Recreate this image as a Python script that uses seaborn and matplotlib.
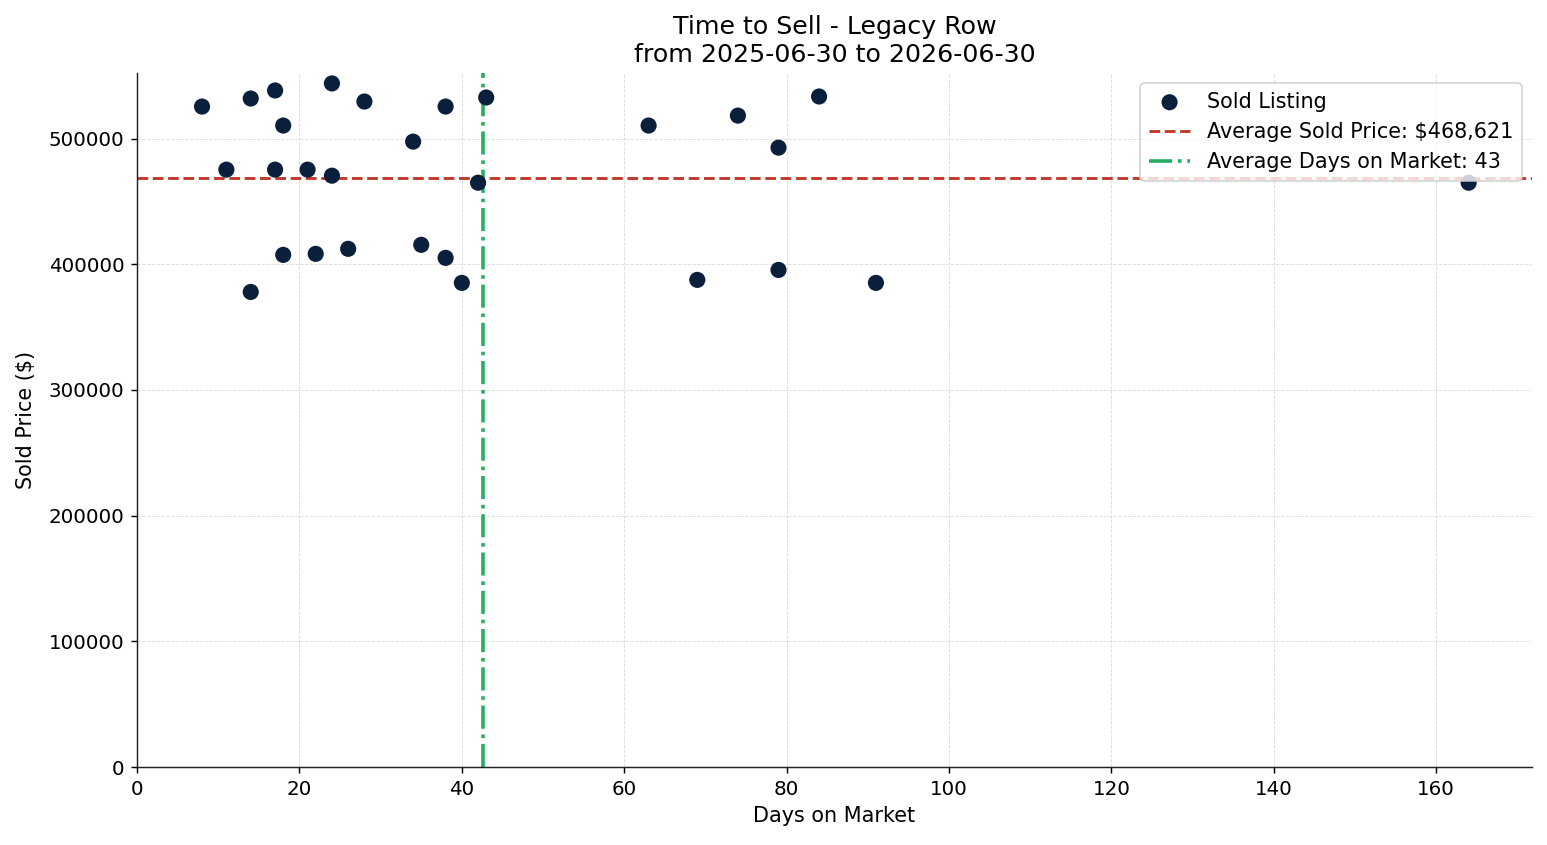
import matplotlib

matplotlib.use("Agg")
import matplotlib.pyplot as plt
import numpy as np
import pandas as pd
import seaborn as sns

# Data
days_on_market = [8, 11, 14, 14, 17, 17, 18, 18, 21, 22, 24, 24, 26, 28, 34,
                  35, 38, 38, 40, 42, 43, 63, 69, 74, 79, 79, 84, 91, 164]
sold_price = [525500, 475300, 531900, 378000, 538300, 475300, 510400, 407500,
              475300, 408300, 543900, 470500, 412300, 529500, 497600, 415500,
              525500, 405100, 385200, 464900, 532700, 510400, 387600, 518300,
              492800, 395500, 533500, 385200, 464900]
avg_price = 468621
avg_days = 42.6

df = pd.DataFrame({"days": days_on_market, "price": sold_price})

sns.set_style("ticks")
plt.rcParams["font.family"] = ["DejaVu Sans"]
plt.rcParams.update({
    "text.color": "black",
    "axes.labelcolor": "black",
    "xtick.color": "black",
    "ytick.color": "black",
    "axes.edgecolor": "#222222",
})

fig, ax = plt.subplots(figsize=(1547 / 130, 845 / 130), dpi=130)

sns.scatterplot(
    data=df,
    x="days",
    y="price",
    color="#0a1f3c",
    s=80,
    edgecolor="none",
    label="Sold Listing",
    ax=ax,
    zorder=3,
)

ax.axhline(avg_price, color="#c0392b", linestyle="--", linewidth=1.6,
           label=f"Average Sold Price: ${avg_price:,.0f}")
ax.axvline(avg_days, color="#27ae60", linestyle="-.", linewidth=2,
           label=f"Average Days on Market: {round(avg_days)}")

ax.set_xlim(left=0)
ax.set_ylim(bottom=0)
ax.grid(True, linestyle="--", linewidth=0.5, color="#dddddd")
ax.set_axisbelow(True)
sns.despine(ax=ax)

ax.set_title("Time to Sell - Legacy Row\nfrom 2025-06-30 to 2026-06-30", fontsize=14)
ax.set_xlabel("Days on Market", fontsize=11.5)
ax.set_ylabel("Sold Price ($)", fontsize=11.5, labelpad=7)
ax.tick_params(labelsize=11)
ax.legend(loc="upper right", fontsize=11.5)

fig.subplots_adjust(left=0.0886, right=0.9903, top=0.9136, bottom=0.0923)
plt.savefig("out.png", dpi=130)
